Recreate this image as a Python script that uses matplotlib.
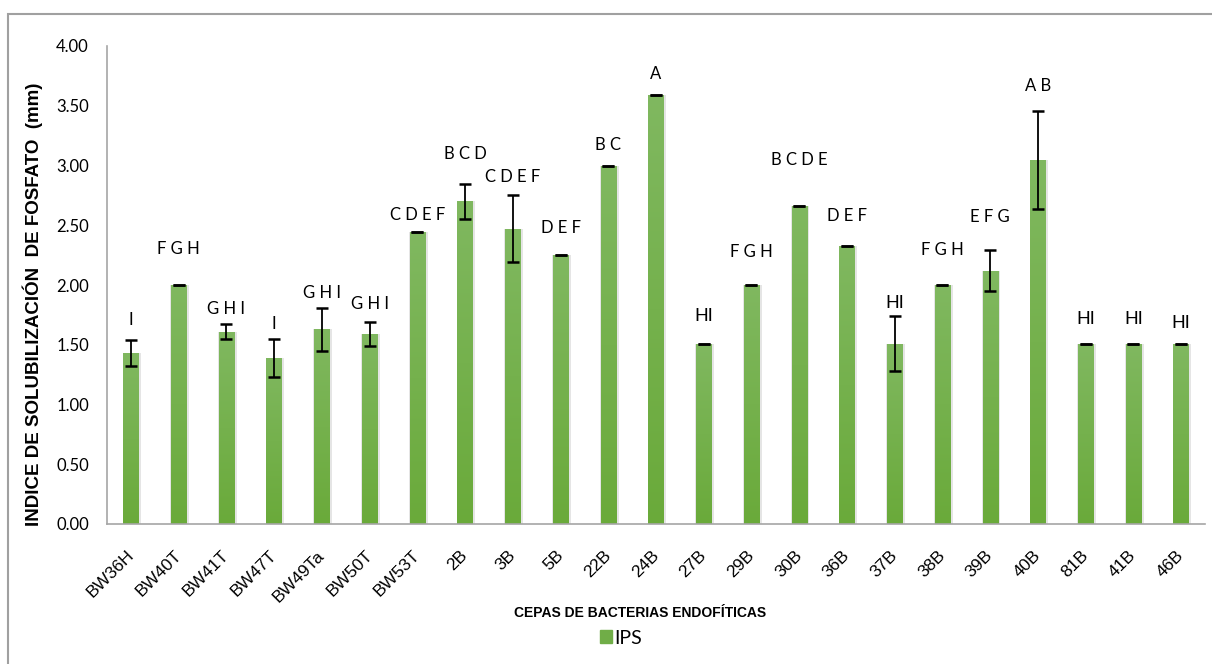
import matplotlib
matplotlib.use("Agg")
import matplotlib.pyplot as plt
import matplotlib.transforms as mtransforms
import numpy as np
from matplotlib.colors import LinearSegmentedColormap
from matplotlib.patches import Rectangle

strains = ["BW36H", "BW40T", "BW41T", "BW47T", "BW49Ta", "BW50T", "BW53T", "2B", "3B", "5B",
           "22B", "24B", "27B", "29B", "30B", "36B", "37B", "38B", "39B", "40B", "81B", "41B", "46B"]
ips = [1.43, 2.00, 1.61, 1.39, 1.63, 1.59, 2.44, 2.70, 2.47, 2.25,
       3.00, 3.59, 1.51, 2.00, 2.66, 2.33, 1.51, 2.00, 2.12, 3.05, 1.51, 1.51, 1.51]
ips_err = [0.11, 0.0, 0.065, 0.16, 0.18, 0.10, 0.0, 0.145, 0.28, 0.0,
           0.0, 0.0, 0.0, 0.0, 0.0, 0.0, 0.23, 0.0, 0.17, 0.41, 0.0, 0.0, 0.0]
groups = ["I", "F G H", "G H I", "I", "G H I", "G H I", "C D E F", "B C D", "C D E F", "D E F",
          "B C", "A", "HI", "F G H", "B C D E", "D E F", "HI", "F G H", "E F G", "A B", "HI", "HI", "HI"]
yticks = [0.0, 0.5, 1.0, 1.5, 2.0, 2.5, 3.0, 3.5, 4.0]

# label gaps above bar/error top (pixels) - layout only
label_gap = [12, 28, 7, 7, 7, 10, 9, 22, 10, 19, 13, 13, 20, 25, 38, 22, 5, 27, 25, 17, 17, 17, 13]

fig = plt.figure(figsize=(12.12, 6.64), dpi=100)
ax = fig.add_axes([107/1212, 1-524/664, (1205-107)/1212, (524-46)/664])

x = np.arange(len(strains))
bw = 0.32
green = "#70AD47"

# soft shadow
ax.bar(x + 0.02, ips, width=bw + 0.07, color="#000000", alpha=0.10, zorder=1)
bars = ax.bar(x, ips, width=bw, color=green, zorder=2)

cmap = LinearSegmentedColormap.from_list("g", ["#6AAA3A", "#80B860"])
grad = np.linspace(0, 1, 256).reshape(-1, 1)
for b in bars:
    x0, w, h = b.get_x(), b.get_width(), b.get_height()
    im = ax.imshow(grad, extent=[x0, x0 + w, 0, h], origin="lower", cmap=cmap,
                   aspect="auto", zorder=3)
    im.set_clip_path(b)

ax.errorbar(x, ips, yerr=ips_err, fmt="none", ecolor="black", elinewidth=1.3,
            capsize=4, capthick=1.8, zorder=4)

for xi, v, e, g, gap in zip(x, ips, ips_err, groups, label_gap):
    fs = 13 if g == "HI" else 12
    ax.annotate(g, (xi, v + e), xytext=(0, gap), textcoords="offset pixels",
                ha="center", va="bottom", fontsize=fs, family="Lato", color="black")

ax.set_xlim(-0.5, len(strains) - 0.5)
ax.set_ylim(0, 4)
ax.set_yticks(yticks)
ax.set_yticklabels([f"{t:.2f}" for t in yticks], family="Lato", fontsize=12)
ax.set_xticks(x)
ax.set_xticklabels(strains, rotation=45, ha="right", va="top", rotation_mode="anchor",
                   family="Liberation Sans", fontsize=12.5)
ax.tick_params(axis="x", length=0, pad=17)
ax.tick_params(axis="y", length=0, pad=13)
shift = mtransforms.ScaledTranslation(-5/100, 0, fig.dpi_scale_trans)
for lbl in ax.get_xticklabels():
    lbl.set_transform(lbl.get_transform() + shift)
for s in ["top", "right"]:
    ax.spines[s].set_visible(False)
for s in ["left", "bottom"]:
    ax.spines[s].set_color("#A6A6A6")
    ax.spines[s].set_linewidth(1.2)
    ax.spines[s].set_zorder(5)

fig.text(33/1212, 1-304/664, "INDICE DE SOLUBILIZACIÓN  DE FOSFATO  (mm)", rotation=90,
         ha="center", va="center", fontsize=13.5, fontweight="bold", family="Liberation Sans")
fig.text(640/1212, 1-613/664, "CEPAS DE BACTERIAS ENDOFÍTICAS", ha="center", va="center",
         fontsize=10, fontweight="bold", family=["Liberation Sans Narrow", "Liberation Sans"])

# legend
fig.patches.append(Rectangle((600/1212, 1-643/664), 12/1212, 13/664, transform=fig.transFigure,
                             color=green))
fig.text(614/1212, 1-638/664, "IPS", ha="left", va="center", fontsize=14, family="Lato")

# outer frame
fig.patches.append(Rectangle((8/1212, -0.1), 1.2, 1 - 14/664 + 0.1, transform=fig.transFigure,
                             fill=False, edgecolor="#A0A0A0", linewidth=1.5))

fig.savefig("out.png", dpi=100)
